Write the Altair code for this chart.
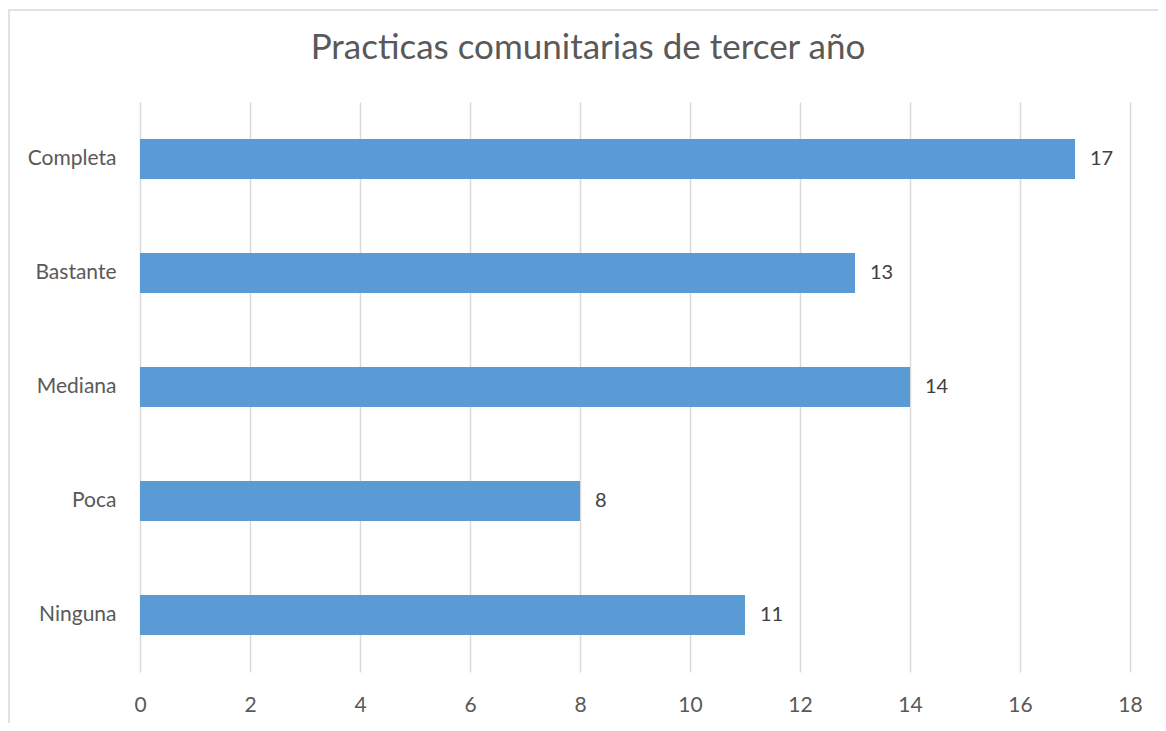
import altair as alt
import pandas as pd

categories = ["Completa", "Bastante", "Mediana", "Poca", "Ninguna"]
values = [17, 13, 14, 8, 11]
x_ticks = [0, 2, 4, 6, 8, 10, 12, 14, 16, 18]
title_text = ["Practicas comunitarias de tercer año"]

df = pd.DataFrame({"cat": categories, "val": values})
tdf = pd.DataFrame({"t": title_text})

FONT = "Lato"
W, H = 990, 570

y_enc = alt.Y("cat:N", sort=categories, title=None,
              scale=alt.Scale(paddingInner=0.65, paddingOuter=0.325),
              axis=alt.Axis(labelFont=FONT, labelFontSize=21, labelColor="#595959",
                            labelPadding=24, ticks=False, domain=False, grid=False))
x_enc = alt.X("val:Q", title=None,
              scale=alt.Scale(domain=[0, 18], nice=False),
              axis=alt.Axis(values=x_ticks, labelFont=FONT, labelFontSize=21,
                            labelColor="#595959", labelPadding=22, ticks=False,
                            labelFlush=False, labelBound=False,
                            domain=False, grid=True, gridColor="#d9d9d9", gridWidth=1.5))

frame = alt.Chart(tdf).mark_rect(filled=False, stroke="#d9d9d9", strokeWidth=1.5, clip=False).encode(
    x=alt.value(-131), x2=alt.value(W + 400), y=alt.value(-92), y2=alt.value(H + 300)
)

title = alt.Chart(tdf).mark_text(align="center", baseline="alphabetic", font=FONT,
                                 fontSize=35, color="#595959", clip=False).encode(
    x=alt.value(448), y=alt.value(-43), text="t:N"
)

bars = alt.Chart(df).mark_bar(color="#5b9bd5").encode(x=x_enc, y=y_enc)

labels = alt.Chart(df).mark_text(align="left", baseline="middle", dx=15, font=FONT,
                                 fontSize=20, color="#404040").encode(
    x="val:Q", y=alt.Y("cat:N", sort=categories), text="val:Q"
)

chart = alt.layer(frame, title, bars, labels).properties(
    width=W, height=H,
    autosize="none",
    padding={"left": 132, "top": 94, "right": 28, "bottom": 51},
).configure_view(stroke=None)

chart.save("out.html", embed_options={"renderer": "svg", "actions": False})
